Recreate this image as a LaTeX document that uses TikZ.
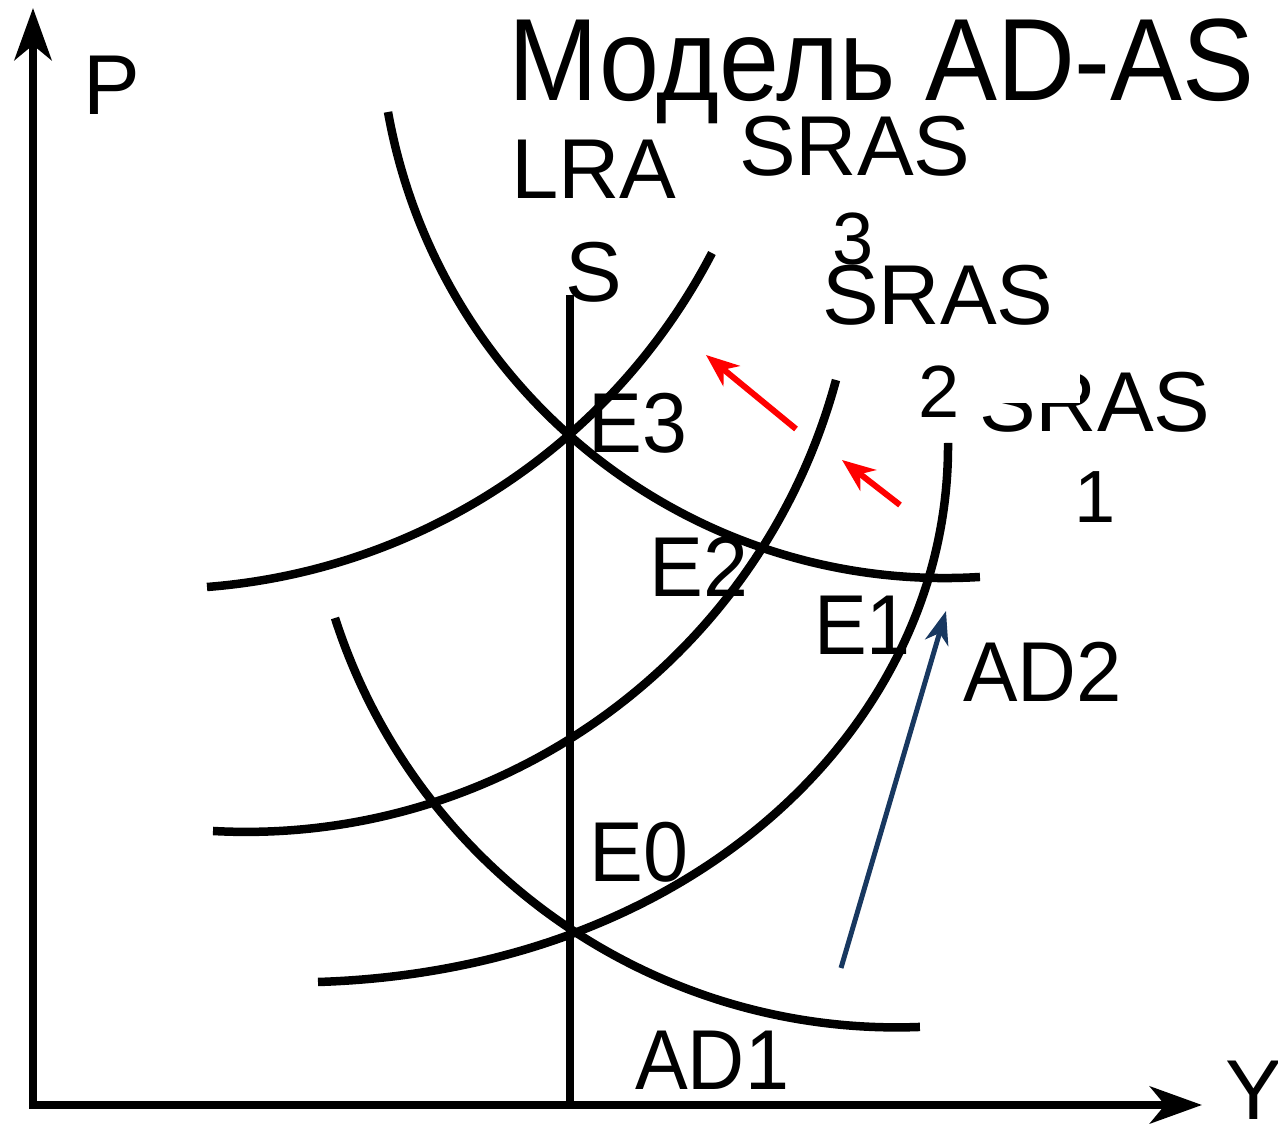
\documentclass[tikz,border=0pt]{standalone}
\usepackage{fontspec}
\setmainfont{Liberation Sans}
\usetikzlibrary{arrows.meta}
\definecolor{navy}{RGB}{24,56,96}
\begin{document}
\begin{tikzpicture}[x=1pt,y=1pt,
  curve/.style={line width=8.5pt},
  axis/.style={line width=8pt,{Stealth[length=52pt,width=37pt,inset=15pt]}-{Stealth[length=52pt,width=37pt,inset=15pt]}},
  lbl/.style={anchor=base west, inner sep=0pt, font=\fontsize{85}{90}\selectfont},
  sub/.style={anchor=base west, inner sep=0pt, font=\fontsize{74}{80}\selectfont},
  ttl/.style={anchor=base west, inner sep=0pt, font=\fontsize{117}{120}\selectfont},
  redarr/.style={draw=red, line width=6pt, -{Stealth[length=33pt,width=26pt,inset=10pt]}},
  bluearr/.style={draw=navy, line width=5pt, -{Stealth[length=33pt,width=24pt,inset=10pt]}}
]
\useasboundingbox (0,0) rectangle (1278,1124);

% axes
\coordinate (Ptop) at (33,1124-8);
\coordinate (O) at (33,1124-1105);
\coordinate (Yend) at (1202,1124-1105);
\draw[axis] (Ptop) -- (O) -- (Yend);

% LRAS
\coordinate (lrasT) at (570,1124-295);
\coordinate (lrasB) at (570,1124-1105);
\draw[line width=7.5pt] (lrasT) -- (lrasB);

% AD2
\draw[curve] (388,1012) arc[start angle=190.17, end angle=273.53, radius=566pt];
% AD1
\draw[curve] (335,506) arc[start angle=197.83, end angle=272.25, radius=590.1pt];
% SRAS3
\draw[curve] (207,537) arc[start angle=274.42, end angle=332.54, radius=623.2pt];
% SRAS2
\draw[curve] (213,293) arc[start angle=266.91, end angle=344.89, radius=611.2pt];
% SRAS1
\draw[curve] (318,1124-982) .. controls (700,1124-970) and (950,1124-720) .. (948,1124-443);

% shift arrows
\coordinate (r1s) at (796,1124-429);
\coordinate (r1e) at (706,1124-355);
\coordinate (r2s) at (900,1124-505);
\coordinate (r2e) at (842,1124-460);
\draw[redarr] (r1s) -- (r1e);
\draw[redarr] (r2s) -- (r2e);
\coordinate (bs) at (841,1124-968);
\coordinate (be) at (946,1124-611);
\draw[bluearr] (bs) -- (be);

% labels
\node[ttl] (title) at (508,1124-101) {\scalebox{0.922}[1]{Модель AD-AS}};
\node[lbl] (lP) at (83,1124-115) {P};
\node[lbl] (lY) at (1225,1124-1120) {Y};
\node[lbl] (lLRA) at (511,1124-199) {LRA};
\node[lbl] (lS) at (565,1124-302) {S};
\node[lbl] (lSRAS3) at (739,1124-176) {SRAS};
\node[sub] (l3) at (832,1124-265) {3};
\node[lbl] (lSRAS2) at (822,1124-325) {SRAS};
\node[lbl] (lSRAS1) at (979,1124-432) {SRAS};
\fill[white] (905,1124-403) rectangle (1080,1124-340);
\node[sub] (l2) at (918,1124-418) {2};
\node[sub] (l1) at (1074,1124-523) {1};
\node[lbl] (lE3) at (588,1124-453) {\scalebox{0.95}[1]{E3}};
\node[lbl] (lE2) at (649,1124-597) {\scalebox{0.95}[1]{E2}};
\node[lbl] (lE1) at (814,1124-655) {\scalebox{0.93}[1]{E1}};
\node[lbl] (lAD2) at (963,1124-702) {\scalebox{0.96}[1]{AD2}};
\node[lbl] (lE0) at (589,1124-882) {\scalebox{0.95}[1]{E0}};
\node[lbl] (lAD1) at (635,1124-1090) {\scalebox{0.93}[1]{AD1}};
\end{tikzpicture}
\end{document}
